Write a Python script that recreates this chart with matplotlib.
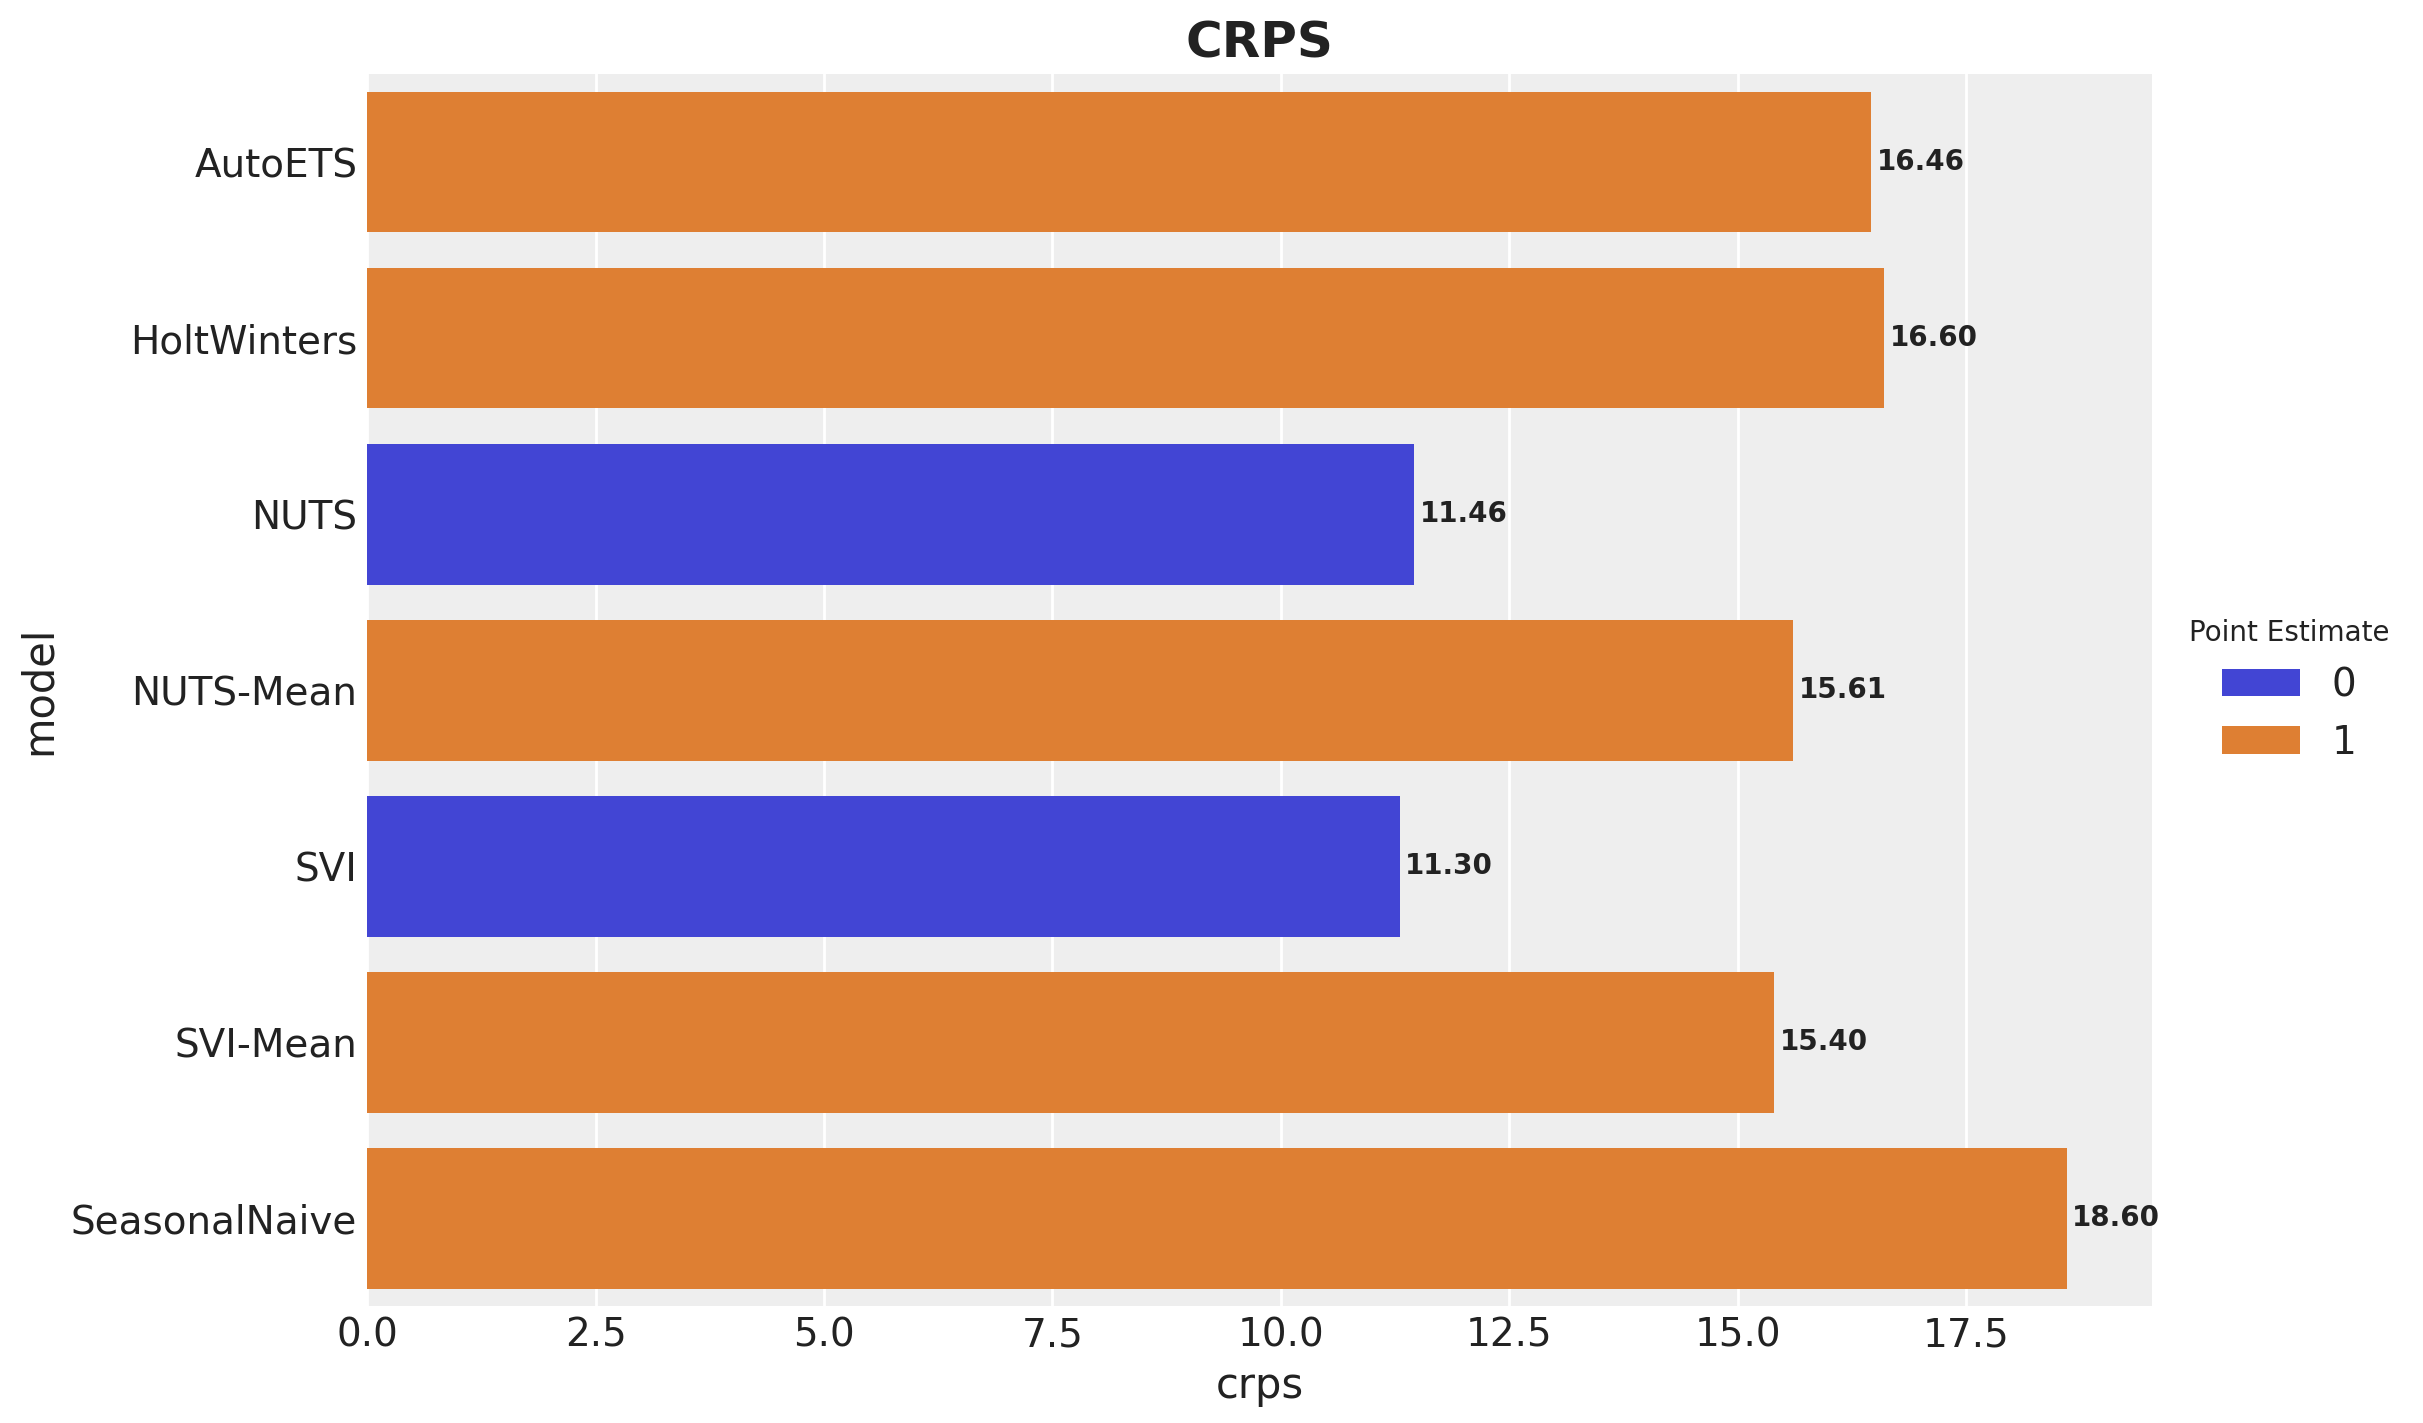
import matplotlib
matplotlib.use("Agg")
import matplotlib.pyplot as plt
import seaborn as sns
import pandas as pd

models = ["AutoETS", "HoltWinters", "NUTS", "NUTS-Mean", "SVI", "SVI-Mean", "SeasonalNaive"]
crps = [16.46, 16.60, 11.46, 15.61, 11.30, 15.40, 18.60]
point_estimate = [1, 1, 0, 1, 0, 1, 1]

df = pd.DataFrame({"model": models, "crps": crps, "Point Estimate": point_estimate})

plt.rcParams.update({
    "axes.facecolor": "#eeeeee",
    "axes.edgecolor": "white",
    "axes.grid": True,
    "grid.color": "white",
    "grid.linewidth": 1.0,
    "axes.labelcolor": "#222222",
    "text.color": "#222222",
    "xtick.color": "#222222",
    "ytick.color": "#222222",
    "xtick.major.size": 0,
    "ytick.major.size": 0,
    "xtick.labelsize": 14,
    "ytick.labelsize": 14,
    "axes.labelsize": 15,
    "font.family": ["DejaVu Sans"],
})

fig, ax = plt.subplots(figsize=(12.115, 7.115), dpi=200)
fig.subplots_adjust(left=0.1515, right=0.888, top=0.948, bottom=0.082)

sns.barplot(data=df, x="crps", y="model", hue="Point Estimate",
            palette=["#2a2eec", "#fa7c17"], dodge=False, ax=ax, legend=True)
ax.set_axisbelow(True)
ax.grid(axis="y", visible=False)
for s in ax.spines.values():
    s.set_visible(False)

# value labels at the end of each bar
for cont in ax.containers:
    ax.bar_label(cont, fmt="%.2f", padding=2, fontsize=10, fontweight="bold")

ax.set_xlim(0, max(crps) * 1.05)
ax.set_ylim(6.5, -0.5)
ax.set_title("CRPS", fontsize=18, fontweight="bold")
ax.set_xlabel("crps")
ax.set_ylabel("model")

handles, labels = ax.get_legend_handles_labels()
ax.get_legend().remove()
fig.legend(handles, labels, title="Point Estimate", loc="center left",
           bbox_to_anchor=(0.889, 0.515), frameon=False, fontsize=14,
           title_fontsize=10)

fig.savefig("out.png", dpi=200)
